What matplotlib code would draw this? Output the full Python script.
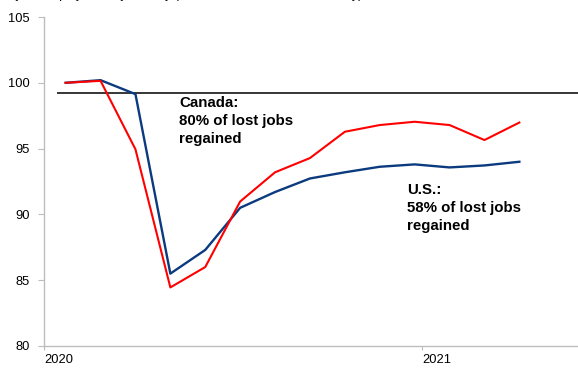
import matplotlib
matplotlib.use("Agg")
import matplotlib.pyplot as plt
import numpy as np

plt.rcParams['font.family'] = ['Liberation Sans', 'DejaVu Sans']

# monthly employment index, Jan 2020 .. Feb 2021 (Feb 2020 = 100)
months = np.arange(14)
canada = [100.0, 100.15, 94.95, 84.45, 86.0, 90.98, 93.2, 94.28,
          96.28, 96.79, 97.04, 96.79, 95.65, 96.98]
us = [100.0, 100.2, 99.14, 85.5, 87.3, 90.5, 91.7, 92.73,
      93.2, 93.62, 93.8, 93.57, 93.72, 94.0]

year_ticks = [-0.62, 10.21]
year_labels = ['2020', '2021']
yticks = [80, 85, 90, 95, 100, 105]
ref_level = 99.24

fig = plt.figure(figsize=(5.78, 3.69), dpi=100)
ax = fig.add_axes([44 / 578, 1 - 346 / 369, 1 - 44 / 578, (346 - 17) / 369])

ax.plot(months, us, color='#0B3A7E', linewidth=1.7, zorder=3)
ax.plot(months, canada, color='#FF0000', linewidth=1.5, zorder=4)
ax.hlines(ref_level, -0.25, 14.7, color='black', linewidth=1.1, zorder=2)

ax.set_xlim(-0.62, 14.68)
ax.set_ylim(80, 105)
ax.set_yticks(yticks)
ax.set_yticklabels([str(v) for v in yticks], fontsize=9.3)
ax.set_xticks(year_ticks)
ax.set_xticklabels(year_labels, fontsize=9.3, ha='left')

for side in ['top', 'right']:
    ax.spines[side].set_visible(False)
for side in ['left', 'bottom']:
    ax.spines[side].set_color('#BDBDBD')
    ax.spines[side].set_linewidth(1.0)
ax.tick_params(axis='y', length=4, width=0.8, color='#BDBDBD', pad=6)
ax.tick_params(axis='x', length=3, width=0.8, color='#BDBDBD', pad=3)

ax.text(3.25, 99.0, 'Canada:\n80% of lost jobs\nregained', fontsize=10.8,
        fontweight='bold', va='top', ha='left', linespacing=1.35)
ax.text(9.77, 92.35, 'U.S.:\n58% of lost jobs\nregained', fontsize=10.8,
        fontweight='bold', va='top', ha='left', linespacing=1.35)

# heading line above the plot area (mostly outside the canvas)
fig.text(0.0, 1 + 1.5 / 369, 'Payroll employment by country (index, Feb. 2020 = 100, monthly)',
         fontsize=9, va='baseline', ha='left')

fig.savefig('out.png', dpi=100)
